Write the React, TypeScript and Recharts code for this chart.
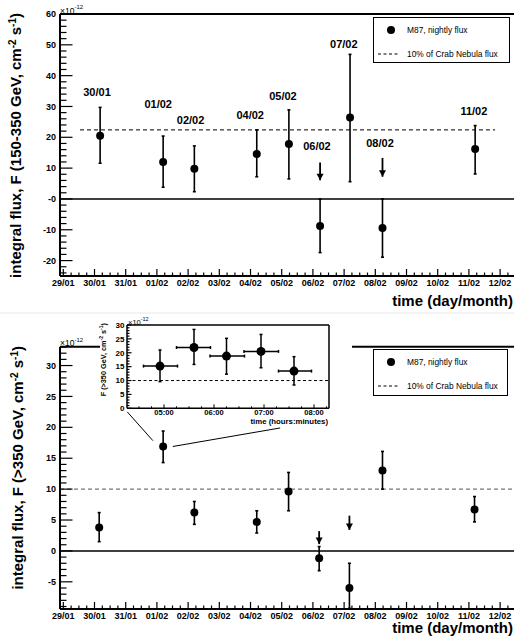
import React from 'react';
import { ComposedChart, Scatter, XAxis, YAxis, ErrorBar, ReferenceLine } from 'recharts';

const FONT = "'Liberation Sans', Arial, Helvetica, sans-serif";

// ---------- shared x axis (days since 29/01) ----------
const dayLabels = ['29/01', '30/01', '31/01', '01/02', '02/02', '03/02', '04/02', '05/02', '06/02', '07/02', '08/02', '09/02', '10/02', '11/02', '12/02'];
const xDomain: [number, number] = [-0.106, 14.445];
const xTicks: number[] = [];
for (let i = 0; i <= 57; i++) xTicks.push(i * 0.25);

// ---------- top panel: 150-350 GeV ----------
const topX = [1.18, 3.2, 4.2, 6.2, 7.23, 8.23, 9.19, 10.23, 13.2];
const topFlux = [20.5, 12.0, 9.8, 14.6, 17.8, -8.8, 26.4, -9.4, 16.2];
const topHi = [29.7, 20.4, 17.2, 22.4, 28.9, 0, 46.9, 0, 23.8];
const topLo = [11.6, 3.8, 2.35, 7.2, 6.5, -17.4, 5.6, -18.9, 8.1];
const topULx = [8.23, 10.23];
const topULstart = [11.8, 13.3];
const topULtip = [6.1, 7.2];
const topCrab = 22.4;
const topCrabX = [0.535, 13.84];
const topYDomain: [number, number] = [-25, 60];
const topYTicks: number[] = [];
for (let v = -24; v <= 60; v += 2) topYTicks.push(v);
const nightLabels = ['30/01', '01/02', '02/02', '04/02', '05/02', '06/02', '07/02', '08/02', '11/02'];
const nightLabelX = [1.08, 3.04, 4.08, 5.99, 7.04, 8.13, 8.99, 10.15, 13.16];
const nightLabelY = [34.7, 30.8, 25.4, 27.2, 33.2, 17.0, 50.3, 18.2, 28.5];

// ---------- bottom panel: >350 GeV ----------
const botX = [1.15, 3.2, 4.2, 6.2, 7.22, 8.2, 9.17, 10.23, 13.18];
const botFlux = [3.8, 16.9, 6.2, 4.7, 9.6, -1.2, -6.0, 13.0, 6.7];
const botHi = [6.2, 19.4, 8.0, 6.5, 12.7, 0.7, -2.0, 16.1, 8.8];
const botLo = [1.5, 14.3, 4.3, 2.9, 6.5, -3.2, -9.3, 10.0, 4.7];
const botULx = [8.2, 9.17];
const botULstart = [3.2, 5.7];
const botULtip = [1.1, 3.4];
const botCrab = 10;
const botYDomain: [number, number] = [-9.4, 33.05];
const botYTicks: number[] = [];
for (let v = -9; v <= 33; v += 1) botYTicks.push(v);
const connectA = [{ x: 2.05, y: 22.5 }, { x: 2.87, y: 17.85 }];
const connectB = [{ x: 3.51, y: 16.9 }, { x: 6.95, y: 19.9 }];

// ---------- inset: 01/02 night, hours ----------
const insetX = [4.92, 5.6, 6.25, 6.94, 7.6];
const insetY = [15.2, 21.9, 18.8, 20.5, 13.4];
const insetXLo = [4.59, 5.25, 5.92, 6.6, 7.29];
const insetXHi = [5.27, 5.93, 6.61, 7.29, 7.95];
const insetYLo = [9.6, 15.8, 12.3, 14.6, 8.4];
const insetYHi = [21.0, 28.4, 25.2, 26.6, 18.6];
const insetCrab = 10;
const insetXDomain: [number, number] = [4.26, 8.3];
const insetYDomain: [number, number] = [0, 30];
const insetXTicks: number[] = [];
for (let i = 0; i <= 15; i++) insetXTicks.push(4.5 + i * 0.25);
const insetYTicks: number[] = [];
for (let v = 0; v <= 30; v += 1) insetYTicks.push(v);

// ---------- build tables ----------
const topPoints = topX.map((x, i) => ({ x, y: topFlux[i], ey: [topFlux[i] - topLo[i], topHi[i] - topFlux[i]] }));
const topTips = topULx.map((x, i) => ({ x, y: topULtip[i] }));
const topLabels = nightLabels.map((t, i) => ({ x: nightLabelX[i], y: nightLabelY[i], text: t }));
const botPoints = botX.map((x, i) => ({ x, y: botFlux[i], ey: [botFlux[i] - botLo[i], botHi[i] - botFlux[i]] }));
const botTips = botULx.map((x, i) => ({ x, y: botULtip[i] }));
const insetPoints = insetX.map((x, i) => ({
  x,
  y: insetY[i],
  ex: [x - insetXLo[i], insetXHi[i] - x],
  ey: [insetY[i] - insetYLo[i], insetYHi[i] - insetY[i]],
}));

const isMult = (v: number, step: number) => Math.abs(v / step - Math.round(v / step)) < 1e-6;

const makeXTick = (major: number, minor: number) => (p: any) => {
  const v = p.payload.value;
  const isMajor = isMult(v, 1);
  return (
    <g>
      <line x1={p.x} x2={p.x} y1={p.y} y2={p.y - (isMajor ? major : minor)} stroke="#000" strokeWidth={1.2} />
      {isMajor && (
        <text x={p.x} y={p.y + 9.5} textAnchor="middle" fontSize={9} fontWeight="bold" fontFamily={FONT} fill="#000">
          {dayLabels[Math.round(v)]}
        </text>
      )}
    </g>
  );
};

const makeYTick = (step: number, zeroText: string, major: number, minor: number, fs: number, gap: number) => (p: any) => {
  const v = p.payload.value;
  const isMajor = isMult(v, step);
  return (
    <g>
      <line x1={p.x} x2={p.x + (isMajor ? major : minor)} y1={p.y} y2={p.y} stroke="#000" strokeWidth={1.2} />
      {isMajor && (
        <text x={p.x - gap} y={p.y} dy="0.35em" textAnchor="end" fontSize={fs} fontWeight="bold" fontFamily={FONT} fill="#000">
          {Math.abs(v) < 1e-9 ? zeroText : String(Math.round(v))}
        </text>
      )}
    </g>
  );
};

const insetXTick = (p: any) => {
  const v = p.payload.value;
  const isMajor = isMult(v, 1);
  return (
    <g>
      <line x1={p.x} x2={p.x} y1={p.y} y2={p.y - (isMajor ? 4 : 2)} stroke="#000" strokeWidth={1} />
      {isMajor && (
        <text x={p.x} y={p.y + 6.8} textAnchor="middle" fontSize={7.6} fontWeight="bold" fontFamily={FONT} fill="#000">
          {`0${Math.round(v)}:00`}
        </text>
      )}
    </g>
  );
};

const dot = (r: number) => (p: any) => <circle cx={p.cx} cy={p.cy} r={r} fill="#000" />;
const arrowHead = (p: any) => (
  <path d={`M${p.cx - 3.5},${p.cy - 6.5} L${p.cx + 3.5},${p.cy - 6.5} L${p.cx},${p.cy} Z`} fill="#000" />
);
const textShape = (p: any) => (
  <text x={p.cx} y={p.cy} dy="0.35em" textAnchor="middle" fontSize={11} fontWeight="bold" fontFamily={FONT} fill="#000">
    {p.payload?.text ?? p.text}
  </text>
);

const axisLine = { stroke: '#000', strokeWidth: 2 };

function Legend({ left, top, width, height }: { left: number; top: number; width: number; height: number }) {
  const row = (y: number): React.CSSProperties => ({ position: 'absolute', left: 33, top: y, fontSize: 8.4, lineHeight: '10px', color: '#000', fontFamily: FONT, whiteSpace: 'nowrap' });
  return (
    <div style={{ position: 'absolute', left, top, width, height, border: '1px solid #000', background: '#fff', boxSizing: 'border-box' }}>
      <div style={{ position: 'absolute', left: 13, top: 8, width: 8, height: 8, borderRadius: 4, background: '#000' }} />
      <div style={row(6.5)}>M87, nightly flux</div>
      <svg style={{ position: 'absolute', left: 4, top: 34 }} width={22} height={4}>
        <line x1={0} x2={20} y1={2} y2={2} stroke="#000" strokeWidth={1} strokeDasharray="3 2.5" />
      </svg>
      <div style={row(31)}>10% of Crab Nebula flux</div>
    </div>
  );
}

export default function App() {
  return (
    <div style={{ position: 'absolute', left: 0, top: 0, width: 514, height: 641, overflow: 'hidden', background: '#fff', fontFamily: FONT }}>
      {/* ---------- top panel ---------- */}
      <div style={{ position: 'absolute', left: 0, top: 0 }}>
        <ComposedChart width={514} height={312} margin={{ top: 14, right: 0, bottom: 16, left: 0 }}>
          <XAxis type="number" dataKey="x" domain={xDomain} ticks={xTicks} interval={0} allowDataOverflow
            tick={makeXTick(7, 3.5)} tickLine={false} tickSize={0} tickMargin={0} axisLine={axisLine} height={20} />
          <YAxis type="number" dataKey="y" domain={topYDomain} ticks={topYTicks} interval={0} allowDataOverflow
            tick={makeYTick(10, '-0', 12.5, 6.5, 9, 4)} tickLine={false} tickSize={0} tickMargin={0} axisLine={axisLine} width={60} />
          <ReferenceLine y={topYDomain[1]} stroke="#000" strokeWidth={2} />
          <ReferenceLine y={0} stroke="#000" strokeWidth={1.5} />
          <ReferenceLine segment={[{ x: topCrabX[0], y: topCrab }, { x: topCrabX[1], y: topCrab }]} stroke="#000" strokeWidth={1} strokeDasharray="4 3" />
          {topULx.map((x, i) => (
            <ReferenceLine key={'tu' + i} segment={[{ x, y: topULstart[i] }, { x, y: topULtip[i] }]} stroke="#000" strokeWidth={1.8} />
          ))}
          <Scatter data={topTips} shape={arrowHead} isAnimationActive={false} />
          <Scatter data={topPoints} shape={dot(4)} fill="#000" isAnimationActive={false}>
            <ErrorBar dataKey="ey" direction="y" width={1.5} stroke="#000" strokeWidth={1.6} />
          </Scatter>
          <Scatter data={topLabels} shape={textShape} isAnimationActive={false} />
        </ComposedChart>
      </div>

      {/* ---------- bottom panel ---------- */}
      <div style={{ position: 'absolute', left: 0, top: 320 }}>
        <ComposedChart width={514} height={321} margin={{ top: 26.7, right: 0, bottom: 12, left: 0 }}>
          <XAxis type="number" dataKey="x" domain={xDomain} ticks={xTicks} interval={0} allowDataOverflow
            tick={makeXTick(7, 3.5)} tickLine={false} tickSize={0} tickMargin={0} axisLine={axisLine} height={20} />
          <YAxis type="number" dataKey="y" domain={botYDomain} ticks={botYTicks} interval={0} allowDataOverflow
            tick={makeYTick(5, '0', 12.5, 6.5, 9, 4)} tickLine={false} tickSize={0} tickMargin={0} axisLine={axisLine} width={60} />
          <ReferenceLine y={botYDomain[1]} stroke="#000" strokeWidth={2} />
          <ReferenceLine y={0} stroke="#000" strokeWidth={1.5} />
          <ReferenceLine y={botCrab} stroke="#777" strokeWidth={1.2} strokeDasharray="4 3" />
          <ReferenceLine segment={connectA} stroke="#000" strokeWidth={1} />
          <ReferenceLine segment={connectB} stroke="#000" strokeWidth={1} />
          {botULx.map((x, i) => (
            <ReferenceLine key={'bu' + i} segment={[{ x, y: botULstart[i] }, { x, y: botULtip[i] }]} stroke="#000" strokeWidth={1.8} />
          ))}
          <Scatter data={botTips} shape={arrowHead} isAnimationActive={false} />
          <Scatter data={botPoints} shape={dot(4)} fill="#000" isAnimationActive={false}>
            <ErrorBar dataKey="ey" direction="y" width={1.5} stroke="#000" strokeWidth={1.6} />
          </Scatter>
        </ComposedChart>
      </div>

      {/* ---------- inset ---------- */}
      <div style={{ position: 'absolute', left: 100, top: 315, width: 252, height: 95, background: '#fff' }} />
      <div style={{ position: 'absolute', left: 96, top: 315 }}>
        <ComposedChart width={256} height={116} margin={{ top: 10, right: 23, bottom: 2.7, left: 0 }}>
          <XAxis type="number" dataKey="x" domain={insetXDomain} ticks={insetXTicks} interval={0} allowDataOverflow
            tick={insetXTick} tickLine={false} tickSize={0} tickMargin={0} axisLine={{ stroke: '#000', strokeWidth: 1.5 }} height={20} />
          <YAxis type="number" dataKey="y" domain={insetYDomain} ticks={insetYTicks} interval={0} allowDataOverflow
            tick={makeYTick(5, '0', 4.5, 2.5, 8, 2.5)} tickLine={false} tickSize={0} tickMargin={0} axisLine={{ stroke: '#000', strokeWidth: 1.5 }} width={31} />
          <ReferenceLine y={insetYDomain[1]} stroke="#000" strokeWidth={1.5} />
          <ReferenceLine x={insetXDomain[1]} stroke="#000" strokeWidth={1.5} />
          <ReferenceLine y={insetCrab} stroke="#000" strokeWidth={1} strokeDasharray="3 2.5" />
          <Scatter data={insetPoints} shape={dot(4.5)} fill="#000" isAnimationActive={false}>
            <ErrorBar dataKey="ex" direction="x" width={1.5} stroke="#000" strokeWidth={1.5} />
            <ErrorBar dataKey="ey" direction="y" width={1.5} stroke="#000" strokeWidth={1.5} />
          </Scatter>
        </ComposedChart>
      </div>

      {/* ---------- legends ---------- */}
      <Legend left={373} top={17} width={137} height={46} />
      <Legend left={373} top={349} width={135} height={47} />

      {/* ---------- titles ---------- */}
      <svg style={{ position: 'absolute', left: 0, top: 0, pointerEvents: 'none' }} width={514} height={641}>
        <line x1={0} x2={514} y1={313} y2={313} stroke="#e6e6e6" strokeWidth={1} />
        <g fontFamily={FONT} fill="#000">
          <text transform="translate(21,13) rotate(-90)" textAnchor="end" fontSize={15} fontWeight="bold">
            integral flux, F (150-350 GeV, cm<tspan fontSize={10} dy={-5}>-2</tspan><tspan dy={5}> s</tspan><tspan fontSize={10} dy={-5}>-1</tspan><tspan dy={5}>)</tspan>
          </text>
          <text transform="translate(22.5,346) rotate(-90)" textAnchor="end" fontSize={15} fontWeight="bold">
            integral flux, F (&gt;350 GeV, cm<tspan fontSize={10} dy={-5}>-2</tspan><tspan dy={5}> s</tspan><tspan fontSize={10} dy={-5}>-1</tspan><tspan dy={5}>)</tspan>
          </text>
          <text x={513} y={306} textAnchor="end" fontSize={15} fontWeight="bold">time (day/month)</text>
          <text x={513} y={633} textAnchor="end" fontSize={15} fontWeight="bold">time (day/month)</text>
          <text x={60} y={13.5} fontSize={8.5}>×10<tspan fontSize={6} dy={-4.5}>-12</tspan></text>
          <text x={60} y={346} fontSize={8.5}>×10<tspan fontSize={6} dy={-4.5}>-12</tspan></text>
          <text x={128} y={325} fontSize={7.5}>×10<tspan fontSize={5.5} dy={-4}>-12</tspan></text>
          <text transform="translate(105.5,323) rotate(-90)" textAnchor="end" fontSize={7.3} fontWeight="bold">
            F (&gt;350 GeV, cm<tspan fontSize={5} dy={-2.5}>-2</tspan><tspan dy={2.5}> s</tspan><tspan fontSize={5} dy={-2.5}>-1</tspan><tspan dy={2.5}>)</tspan>
          </text>
          <text x={328} y={423.5} textAnchor="end" fontSize={7.8} fontWeight="bold">time (hours:minutes)</text>
        </g>
      </svg>
    </div>
  );
}
